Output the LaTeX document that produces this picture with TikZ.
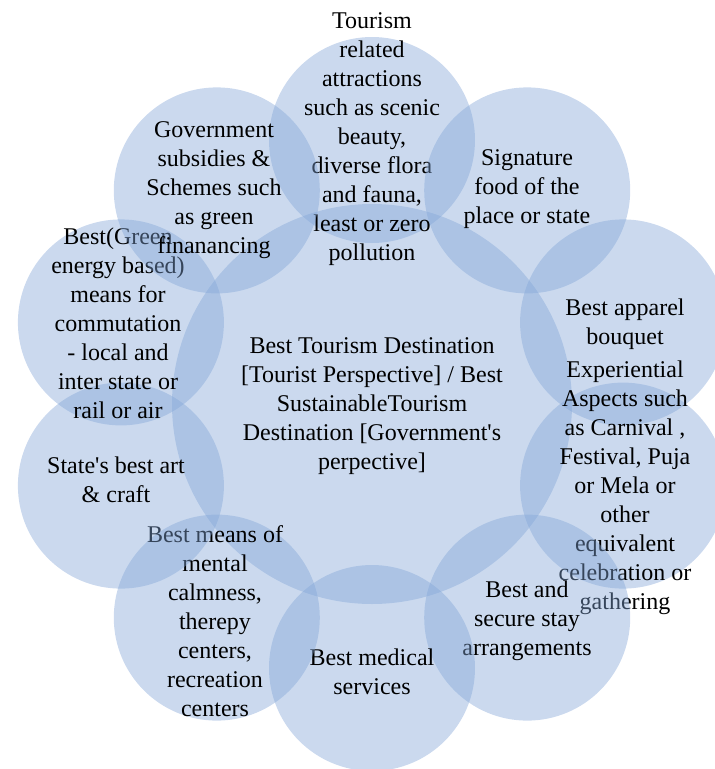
\documentclass[tikz,border=0pt]{standalone}
\usepackage{fontspec}
\setmainfont{Liberation Serif}
\newfontfamily\petalfont{Liberation Serif}
\definecolor{petalblue}{RGB}{130,165,215}
\tikzset{
  petal/.style={circle, fill=petalblue, fill opacity=0.42, inner sep=0pt, minimum size=206pt},
  petaltext/.style={align=center, inner sep=0pt, text=black, font=\petalfont\fontsize{24}{29}\selectfont}
}
\begin{document}
\begin{tikzpicture}[x=1pt, y=-1pt]
  \useasboundingbox (0,0) rectangle (715,769);
  \clip (0,0) rectangle (715,769);

  % Hub
  \node (hub) at (372,404) [petal, minimum size=400pt] {};
  \node (hubtxt) at (372,406) [petaltext] {Best Tourism Destination\\{[}Tourist Perspective{]} / Best\\SustainableTourism\\Destination {[}Government's\\perpective{]}};

  % Ring of petals, clockwise from the top
  \node (attract) at (372,140) [petal] {};
  \node (attracttxt) at (372,139) [petaltext] {Tourism\\related\\attractions\\such as scenic\\beauty,\\diverse flora\\and fauna,\\least or zero\\pollution};

  \node (food) at (527.2,190.4) [petal] {};
  \node (foodtxt) at (527,189) [petaltext] {Signature\\food of the\\place or state};

  \node (apparel) at (623.1,322.4) [petal] {};
  \node (appareltxt) at (625,324) [petaltext] {Best apparel\\bouquet};

  \node (festive) at (623.1,485.6) [petal] {};
  \node (festivetxt) at (625,488) [petaltext] {Experiential\\Aspects such\\as Carnival ,\\Festival, Puja\\or Mela or\\other\\equivalent\\celebration or\\gathering};

  \node (stay) at (527.2,617.6) [petal] {};
  \node (staytxt) at (527,621) [petaltext] {Best and\\secure stay\\arrangements};

  \node (medical) at (372,668) [petal] {};
  \node (medicaltxt) at (372,672) [petaltext] {Best medical\\services};

  \node (calm) at (216.8,617.6) [petal] {};
  \node (calmtxt) at (215,621) [petaltext] {Best means of\\mental\\calmness,\\therepy\\centers,\\recreation\\centers};

  \node (craft) at (120.9,485.6) [petal] {};
  \node (crafttxt) at (116,480) [petaltext] {State's best art\\\& craft};

  \node (commute) at (120.9,322.4) [petal] {};
  \node (commutetxt) at (118,323) [petaltext] {Best(Green\\energy based)\\means for\\commutation\\- local and\\inter state or\\rail or air};

  \node (subsidy) at (216.8,190.4) [petal] {};
  \node (subsidytxt) at (214,190) [petaltext] {Government\\subsidies \&\\Schemes such\\as green\\finanancing};
\end{tikzpicture}
\end{document}
